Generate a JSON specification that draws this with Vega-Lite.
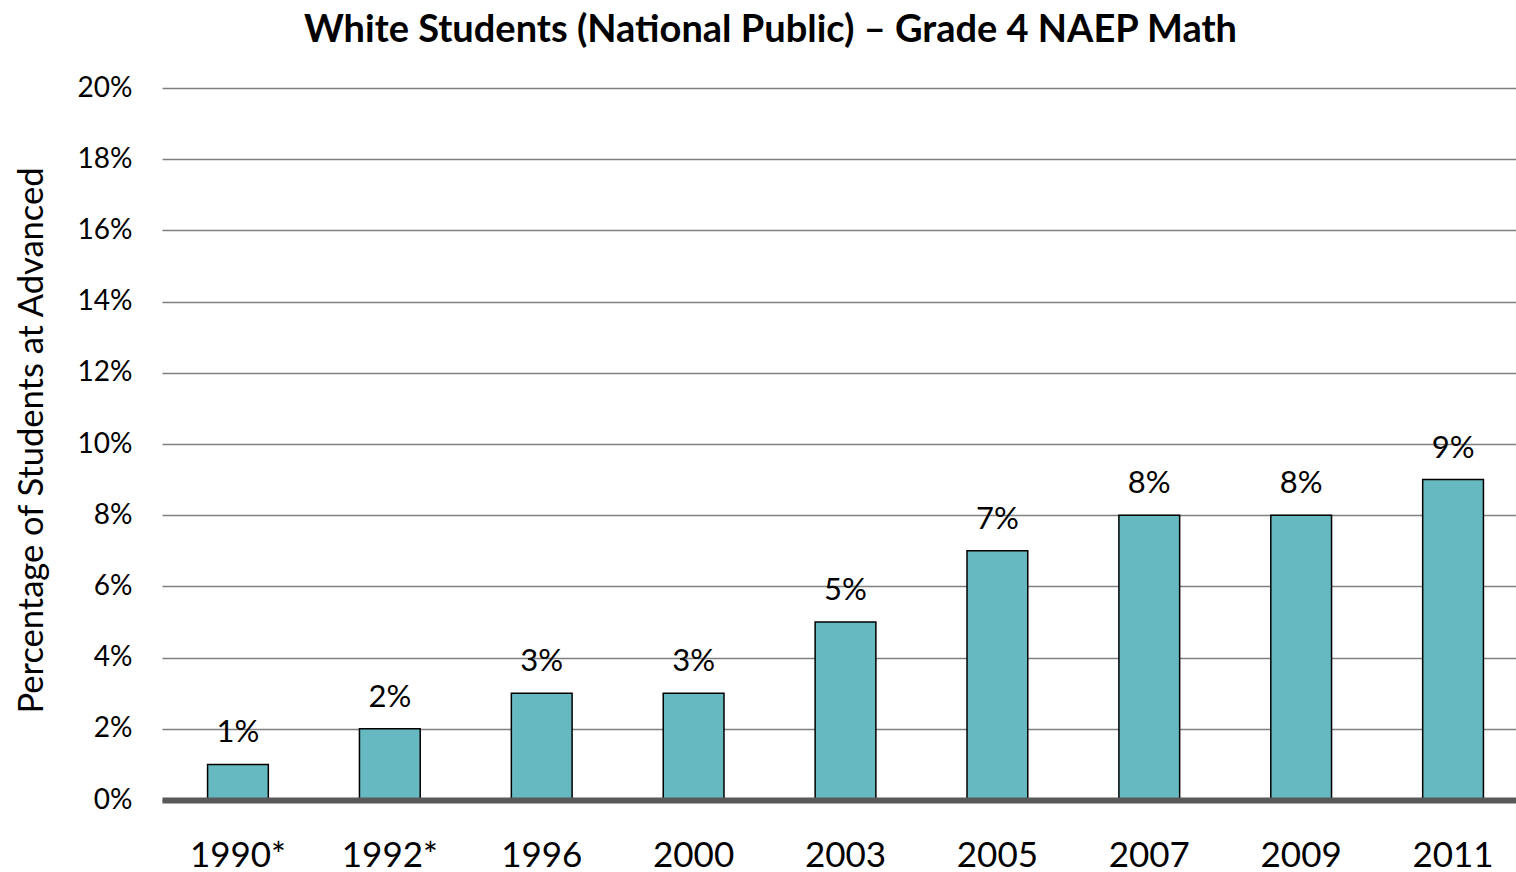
{
  "$schema": "https://vega.github.io/schema/vega-lite/v6.json",
  "autosize": "none",
  "padding": {"left": 162, "top": 88, "right": 0, "bottom": 72},
  "width": 1367,
  "height": 712,
  "background": "white",
  "title": {
    "text": "White Students (National Public) \u2013 Grade 4 NAEP Math",
    "font": "Lato",
    "fontSize": 38,
    "fontWeight": "bold",
    "color": "#000000",
    "anchor": "middle",
    "frame": "group",
    "baseline": "alphabetic",
    "offset": -6,
    "dx": -75
  },
  "config": {
    "view": {"stroke": null},
    "font": "Lato"
  },
  "data": {
    "values": [
      {"year": "1990*", "pct": 0.01},
      {"year": "1992*", "pct": 0.02},
      {"year": "1996", "pct": 0.03},
      {"year": "2000", "pct": 0.03},
      {"year": "2003", "pct": 0.05},
      {"year": "2005", "pct": 0.07},
      {"year": "2007", "pct": 0.08},
      {"year": "2009", "pct": 0.08},
      {"year": "2011", "pct": 0.09}
    ]
  },
  "encoding": {
    "x": {
      "field": "year",
      "type": "nominal",
      "sort": null,
      "scale": {"paddingInner": 0.6, "paddingOuter": 0.3},
      "axis": {
        "title": null,
        "labelAngle": 0,
        "labelFont": "Lato",
        "labelFontSize": 35,
        "labelColor": "#000000",
        "labelPadding": 38,
        "ticks": false,
        "domain": true,
        "domainColor": "#595959",
        "domainWidth": 6,
        "grid": false,
        "zindex": 1
      }
    },
    "y": {
      "field": "pct",
      "type": "quantitative",
      "scale": {"domain": [0, 0.2], "nice": false},
      "axis": {
        "title": "Percentage of Students at Advanced",
        "titleFont": "Lato",
        "titleFontSize": 34.5,
        "titleFontWeight": "normal",
        "titleColor": "#000000",
        "titleAngle": -90,
        "titleAlign": "center",
        "titleBaseline": "alphabetic",
        "titleX": -120,
        "titleY": 352,
        "format": ".0%",
        "values": [0, 0.02, 0.04, 0.06, 0.08, 0.1, 0.12, 0.14, 0.16, 0.18, 0.2],
        "labelFont": "Lato",
        "labelFontSize": 28,
        "labelColor": "#000000",
        "labelPadding": 30,
        "ticks": false,
        "domain": false,
        "grid": true,
        "gridColor": "#808080",
        "gridWidth": 1.3
      }
    }
  },
  "layer": [
    {
      "mark": {"type": "bar", "color": "#67B9C1", "stroke": "#000000", "strokeWidth": 1.5}
    },
    {
      "mark": {"type": "text", "font": "Lato", "fontSize": 31, "color": "#000000", "baseline": "alphabetic", "align": "center", "dy": -22},
      "encoding": {
        "text": {"field": "pct", "type": "quantitative", "format": ".0%"}
      }
    }
  ]
}
